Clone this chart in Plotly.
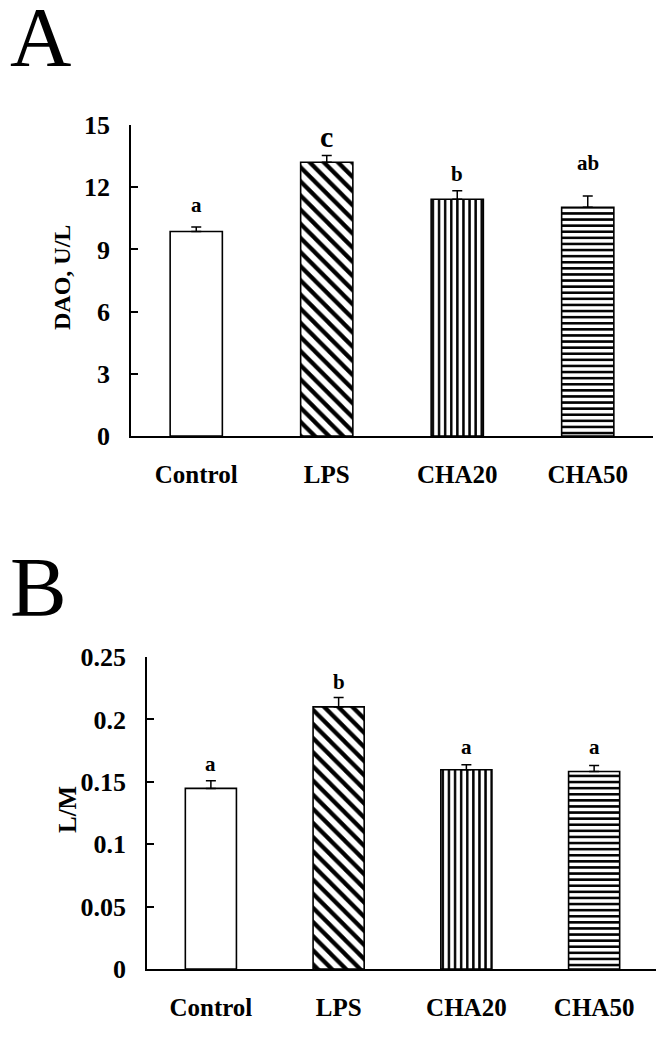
import plotly.graph_objects as go

W, H = 664, 1053

categories = ["Control", "LPS", "CHA20", "CHA50"]
dao_values = [9.86, 13.2, 11.42, 11.03]
dao_errors = [0.22, 0.33, 0.41, 0.55]
dao_letters = ["a", "c", "b", "ab"]
lm_values = [0.1447, 0.210, 0.1597, 0.1583]
lm_errors = [0.0062, 0.0075, 0.0040, 0.0047]
lm_letters = ["a", "b", "a", "a"]
dao_ticks = [0, 3, 6, 9, 12, 15]
dao_ticktext = ["0", "3", "6", "9", "12", "15"]
lm_ticks = [0, 0.05, 0.1, 0.15, 0.2, 0.25]
lm_ticktext = ["0", "0.05", "0.1", "0.15", "0.2", "0.25"]

# styling
shapes = ["", "\\", "|", "-"]
psizes = [8, 10, 6.1, 6.1]
psolid = [0.3, 0.42, 0.4, 0.42]
dao_gap = [8, 0, 3, 19]
lm_gap = [3, 2, 4, 5]
dao_letter_size = [21, 30, 21, 21]
FONT = "Liberation Serif"
OFF = 8  # page body margin offset


def px_x(p):
    return (p - OFF) / W


def px_y(p):
    return 1 - (p - OFF) / H


def bold(lst):
    return ["<b>%s</b>" % t for t in lst]


fig = go.Figure()

for vals, errs, xa, ya in [(dao_values, dao_errors, "x", "y"), (lm_values, lm_errors, "x2", "y2")]:
    fig.add_trace(go.Bar(
        x=categories, y=vals, xaxis=xa, yaxis=ya, width=0.4,
        marker=dict(color="white", line=dict(color="black", width=1.6),
                    pattern=dict(shape=shapes, size=psizes, solidity=psolid,
                                 fgcolor="black", bgcolor="white")),
        error_y=dict(type="data", symmetric=False, array=errs, arrayminus=[0] * len(errs),
                     color="black", thickness=1.5, width=5),
        showlegend=False,
    ))

annotations = []
for i, c in enumerate(categories):
    annotations.append(dict(x=c, y=dao_values[i] + dao_errors[i], xref="x", yref="y",
                            text="<b>%s</b>" % dao_letters[i], showarrow=False,
                            xanchor="center", yanchor="bottom", yshift=dao_gap[i],
                            font=dict(family=FONT, size=dao_letter_size[i], color="black")))
    annotations.append(dict(x=c, y=lm_values[i] + lm_errors[i], xref="x2", yref="y2",
                            text="<b>%s</b>" % lm_letters[i], showarrow=False,
                            xanchor="center", yanchor="bottom", yshift=lm_gap[i],
                            font=dict(family=FONT, size=21, color="black")))

annotations.append(dict(x=px_x(8), y=px_y(37), xref="paper", yref="paper", text="A",
                        showarrow=False, xanchor="left", yanchor="middle",
                        font=dict(family=FONT, size=85, color="black")))
annotations.append(dict(x=px_x(8), y=px_y(587), xref="paper", yref="paper", text="B",
                        showarrow=False, xanchor="left", yanchor="middle",
                        font=dict(family=FONT, size=85, color="black")))
annotations.append(dict(x=px_x(62), y=px_y(278), xref="paper", yref="paper",
                        text="<b>DAO, U/L</b>", showarrow=False, textangle=-90,
                        xanchor="center", yanchor="middle",
                        font=dict(family=FONT, size=24, color="black")))
annotations.append(dict(x=px_x(67), y=px_y(810), xref="paper", yref="paper",
                        text="<b>L/M</b>", showarrow=False, textangle=-90,
                        xanchor="center", yanchor="middle",
                        font=dict(family=FONT, size=25, color="black")))

ytickfont = dict(family=FONT, size=26, color="black")
xtickfont = dict(family=FONT, size=25, color="black")
xcommon = dict(type="category", range=[-0.5, 3.5], showline=True, linecolor="black",
               linewidth=1.6, ticks="", showgrid=False, zeroline=False, automargin=False,
               tickfont=xtickfont, ticklabelstandoff=15,
               tickvals=categories, ticktext=bold(categories))
ycommon = dict(showline=True, linecolor="black", linewidth=1.6, ticks="inside",
               ticklen=7, tickwidth=1.6, tickcolor="black", showgrid=False,
               zeroline=False, automargin=False, tickfont=ytickfont, ticklabelstandoff=14)

fig.update_layout(
    template="none",
    width=W, height=H, margin=dict(l=0, r=0, t=0, b=0, pad=0),
    paper_bgcolor="white", plot_bgcolor="white",
    xaxis=dict(domain=[px_x(131), px_x(653)], anchor="y", **xcommon),
    yaxis=dict(domain=[px_y(436), px_y(125)], anchor="x", range=[0, 15],
               tickvals=dao_ticks, ticktext=bold(dao_ticktext), **ycommon),
    xaxis2=dict(domain=[px_x(147), px_x(658)], anchor="y2", **xcommon),
    yaxis2=dict(domain=[px_y(969), px_y(657)], anchor="x2", range=[0, 0.25],
                tickvals=lm_ticks, ticktext=bold(lm_ticktext), **ycommon),
    annotations=annotations,
    bargap=0.6,
)

fig.write_html("out.html")
